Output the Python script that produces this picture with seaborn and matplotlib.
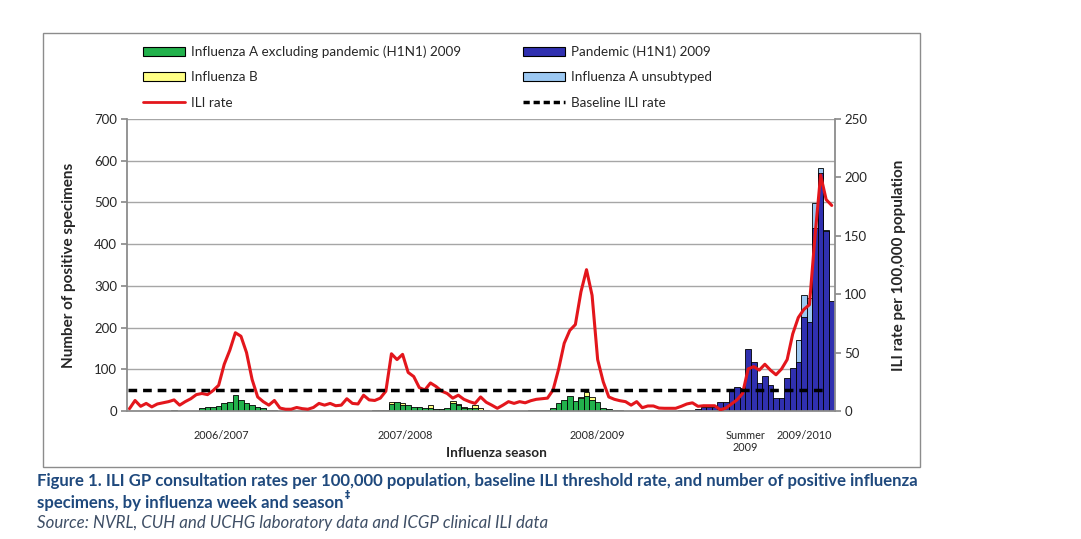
import matplotlib
matplotlib.use("Agg")
import matplotlib.pyplot as plt
from matplotlib.patches import Rectangle, Patch
from matplotlib.lines import Line2D
import pandas as pd
import seaborn as sns

# weekly data, 2006/2007 season to early 2009/2010 season
weeks = list(range(127))

flu_a_other = [
    0, 0, 0, 0, 0, 0, 1, 1, 2, 0,
    0, 0, 0, 8, 8.5, 10, 12, 20, 22, 38,
    26, 20, 14, 10, 7, 3, 2, 0, 0, 0,
    0, 0, 0, 0, 0, 0, 0, 0, 0, 0,
    0, 0, 0, 0, 2, 2, 3, 17, 21, 14,
    14, 9, 10, 6, 8, 4, 4, 8, 20, 14,
    6, 6, 7, 2, 2, 0, 0, 0, 0, 0,
    0, 0, 2, 2, 3, 3, 8, 18, 26, 36,
    25, 30, 36, 26, 22, 8, 4, 2, 2, 1,
    1, 0, 0, 0, 0, 0, 0, 0, 0, 0,
    0, 0, 0, 0, 0, 0, 0, 0, 0, 0,
    0, 0, 0, 0, 0, 0, 0, 0, 0, 0,
    0, 0, 0, 0, 0, 0, 0]

flu_b = [
    0, 0, 0, 0, 0, 0, 0, 0, 0, 0,
    0, 0, 0, 0, 0, 0, 0, 0, 0, 0,
    0, 0, 0, 0, 0, 0, 0, 0, 0, 0,
    0, 0, 0, 0, 0, 0, 0, 0, 0, 0,
    0, 0, 0, 0, 0, 0, 0, 4, 0, 4,
    0, 0, 0, 0, 6, 0, 0, 0, 4, 3,
    4, 0, 7, 4, 0, 0, 0, 0, 0, 0,
    0, 0, 0, 0, 0, 0, 0, 0, 0, 0,
    0, 3, 9, 7, 0, 0, 0, 0, 0, 0,
    0, 0, 0, 0, 0, 0, 0, 0, 0, 0,
    0, 0, 0, 0, 0, 0, 0, 0, 0, 0,
    0, 0, 0, 0, 0, 0, 0, 0, 0, 0,
    0, 0, 0, 0, 0, 0, 0]

pandemic = [
    0, 0, 0, 0, 0, 0, 0, 0, 0, 0,
    0, 0, 0, 0, 0, 0, 0, 0, 0, 0,
    0, 0, 0, 0, 0, 0, 0, 0, 0, 0,
    0, 0, 0, 0, 0, 0, 0, 0, 0, 0,
    0, 0, 0, 0, 0, 0, 0, 0, 0, 0,
    0, 0, 0, 0, 0, 0, 0, 0, 0, 0,
    0, 0, 0, 0, 0, 0, 0, 0, 0, 0,
    0, 0, 0, 0, 0, 0, 0, 0, 0, 0,
    0, 0, 0, 0, 0, 0, 0, 0, 0, 0,
    0, 0, 0, 0, 0, 0, 0, 0, 0, 2,
    2, 3, 5, 10, 10, 10, 22, 22, 48, 57,
    55, 149, 117, 66, 84, 63, 31, 31, 79, 102,
    117, 226, 214, 438, 571, 432, 264]

flu_a_unsub = [0] * 120 + [53, 52, 58, 61, 11, 3, 0]

ili_rate = [
    2, 9, 4, 6.5, 3.5, 6, 7, 8, 9.5, 5,
    8, 10.5, 14, 15, 14, 17.5, 22, 40, 52, 67,
    64, 50, 27, 12, 8, 5, 9, 2.5, 1.5, 1.5,
    3, 2, 1.5, 3, 6.5, 5, 6.5, 4.5, 5, 10.5,
    6.5, 6, 13.5, 9.5, 9, 11, 17, 49, 44, 48.5,
    33, 29.5, 20, 18, 24, 21, 17, 15, 11, 13.5,
    10, 8, 6.5, 12, 7.5, 5, 2.3, 5, 8, 6.5,
    8, 7, 8.8, 10, 10.5, 11, 18, 36, 58, 69,
    74, 102, 121, 99, 44, 25, 12, 10, 8.8, 8,
    5, 8, 2.8, 4.3, 4.3, 2.5, 2.3, 2.3, 2.3, 4,
    6, 7, 4, 4.5, 4.5, 4.5, 1, 2.5, 6, 9.5,
    15, 36, 38, 35, 40, 35, 31, 36, 44, 66,
    80, 87, 91, 150, 202, 181, 176]

baseline_rate = 18
baseline_last_week = 124

season_pos = [16.5, 49.5, 84, 110.5, 121]
season_labels = ["2006/2007", "2007/2008", "2008/2009", "Summer\n2009", "2009/2010"]

c_green = "#22b14c"
c_yellow = "#ffff85"
c_dark = "#3030b0"
c_light = "#9cc8f2"
c_red = "#e3161c"
c_axis = "#8c8c8c"
c_title = "#1f497d"

sns.set_theme(style="white")
plt.rcParams['font.family'] = ['Lato', 'DejaVu Sans']

fig = plt.figure(figsize=(10.81, 5.39), dpi=100)
ax = fig.add_axes([0.1172, 0.2375, 0.6548, 0.5417])

df = pd.DataFrame({'week': weeks, 'a': flu_a_other, 'b': flu_b,
                   'p': pandemic, 'u': flu_a_unsub})
df['c1'] = df['a']
df['c2'] = df['c1'] + df['b']
df['c3'] = df['c2'] + df['p']
df['c4'] = df['c3'] + df['u']

# stacked bars drawn as overlays, tallest layer first
layers = [('u', 'c4', c_light), ('p', 'c3', c_dark), ('b', 'c2', c_yellow), ('a', 'c1', c_green)]
for part, col, color in layers:
    sub = df[df[part] > 0]
    sns.barplot(data=sub, x='week', y=col, order=weeks, color=color, saturation=1,
                width=1, edgecolor='black', linewidth=0.6, errorbar=None, ax=ax)

ax.set_xlim(-0.5, len(weeks) - 0.5)
ax.set_ylim(0, 700)
ax.set_yticks(range(0, 701, 100))
ax.yaxis.grid(True, color='#a6a6a6', lw=1)
ax.set_axisbelow(True)
ax.set_xticks(season_pos)
ax.set_xticklabels(season_labels, fontsize=7.8, linespacing=1.1)
ax.set_xticks([w - 0.5 for w in weeks] + [len(weeks) - 0.5], minor=True)
ax.tick_params(axis='x', which='major', length=0, pad=14)
ax.tick_params(axis='x', which='minor', length=3, color=c_axis, width=0.8, direction='out')
ax.tick_params(axis='y', length=4, color=c_axis, direction='out', labelsize=9.5, pad=3)
ax.set_xlabel("Influenza season", fontsize=9.8, fontweight='bold')
ax.xaxis.set_label_coords(0.522, -0.122)
ax.set_ylabel("Number of positive specimens", fontsize=11, fontweight='bold', labelpad=13)

ax2 = ax.twinx()
sns.lineplot(x=weeks, y=ili_rate, color=c_red, lw=2.2, ax=ax2)
ax2.hlines(baseline_rate, -0.3, baseline_last_week + 0.5, colors='black', lw=2.5,
           linestyles=(0, (2.5, 1.7)))
ax2.set_ylim(0, 250)
ax2.set_yticks(range(0, 251, 50))
ax2.set_xlim(-0.5, len(weeks) - 0.5)
ax2.tick_params(axis='y', length=4, color=c_axis, direction='out', labelsize=9.5, pad=3)
ax2.set_ylabel("ILI rate per 100,000 population", fontsize=11, fontweight='bold', labelpad=18)

for a in (ax, ax2):
    for s in a.spines.values():
        s.set_visible(False)
ax.spines['left'].set_visible(True)
ax.spines['bottom'].set_visible(True)
ax2.spines['right'].set_visible(True)
for s in (ax.spines['left'], ax.spines['bottom'], ax2.spines['right']):
    s.set_color(c_axis)
    s.set_linewidth(1.3)

# legend in two columns above the plot
left_handles = [Patch(facecolor=c_green, edgecolor='black', lw=0.8),
                Patch(facecolor=c_yellow, edgecolor='black', lw=0.8),
                Line2D([], [], color=c_red, lw=2)]
left_labels = ["Influenza A excluding pandemic (H1N1) 2009", "Influenza B", "ILI rate"]
right_handles = [Patch(facecolor=c_dark, edgecolor='black', lw=0.8),
                 Patch(facecolor=c_light, edgecolor='black', lw=0.8),
                 Line2D([], [], color='black', lw=2.5, ls=(0, (1.8, 1.1)))]
right_labels = ["Pandemic (H1N1) 2009", "Influenza A unsubtyped", "Baseline ILI rate"]
for hs, ls, x0 in [(left_handles, left_labels, 143), (right_handles, right_labels, 523)]:
    fig.legend(hs, ls, loc='upper left', bbox_to_anchor=(x0 / 1081, 1 - 45.5 / 539),
               frameon=False, fontsize=9.75, borderaxespad=0, borderpad=0,
               handlelength=3.1, handletextpad=0.45, labelspacing=0.98)

fig.patches.append(Rectangle((0.0395, 0.1341), 0.8115, 0.8047, transform=fig.transFigure,
                             fill=False, edgecolor='#8c8c8c', lw=1))

fig.text(37 / 1081, 1 - 481 / 539,
         "Figure 1. ILI GP consultation rates per 100,000 population, baseline ILI threshold rate, "
         "and number of positive influenza",
         fontsize=12.05, fontweight='bold', color=c_title, va='center')
t2 = fig.text(37 / 1081, 1 - 503 / 539, "specimens, by influenza week and season",
              fontsize=12.05, fontweight='bold', color=c_title, va='center')
fig.canvas.draw()
bb = t2.get_window_extent(fig.canvas.get_renderer())
fig.text((bb.x1 + 1) / 1081, 1 - 495 / 539, "‡", fontsize=7.5, fontweight='bold',
         color=c_title, va='center', family=['DejaVu Sans'])
fig.text(37 / 1081, 1 - 523 / 539,
         "Source: NVRL, CUH and UCHG laboratory data and ICGP clinical ILI data",
         fontsize=12.2, style='italic', color='#3f4f66', va='center')

fig.savefig("out.png", dpi=100)
